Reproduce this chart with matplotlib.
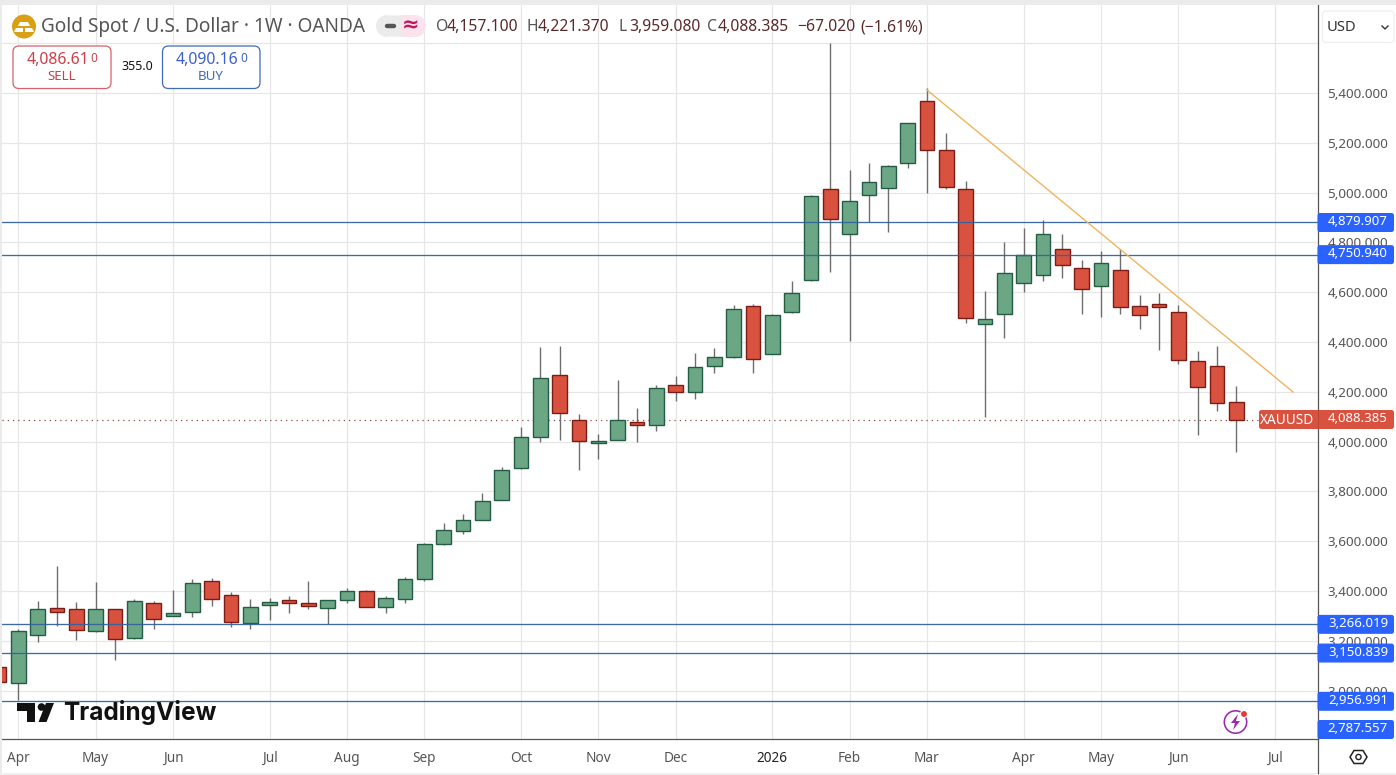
import numpy as np
import matplotlib
matplotlib.use('Agg')
import matplotlib.pyplot as plt
from matplotlib.patches import FancyBboxPatch, Rectangle, Circle, Polygon, Wedge

plt.rcParams['font.family'] = ['Noto Sans', 'DejaVu Sans']

# weekly XAU/USD candles, first bar sits left of the Apr tick
weeks = np.arange(-1, 64)
opens = [3094, 3029, 3222, 3331, 3327, 3238, 3327, 3213, 3351, 3301, 3317, 3439, 3383, 3270, 3343, 3363,
         3351, 3331, 3363, 3399, 3335, 3367, 3447, 3589, 3642, 3686, 3764, 3893, 4017, 4266, 4086, 3993,
         4005, 4078, 4066, 4226, 4198, 4302, 4339, 4545, 4353, 4520, 4649, 5013, 4833, 4989, 5017, 5118,
         5367, 5170, 5013, 4471, 4511, 4636, 4668, 4772, 4696, 4624, 4688, 4543, 4551, 4519, 4322, 4302,
         4157.1]
highs = [3094, 3246, 3359, 3500, 3356, 3436, 3327, 3367, 3359, 3404, 3448, 3451, 3395, 3367, 3371, 3379,
         3439, 3363, 3411, 3403, 3379, 3455, 3592, 3673, 3709, 3792, 3898, 4058, 4380, 4384, 4110, 4029,
         4246, 4134, 4226, 4263, 4355, 4375, 4549, 4553, 4512, 4645, 4990, 5600, 5091, 5118, 5110, 5278,
         5419, 5238, 5045, 4604, 4800, 4857, 4890, 4834, 4728, 4764, 4772, 4588, 4596, 4547, 4363, 4383,
         4221.37]
lows = [3036, 2962, 3196, 3261, 3203, 3235, 3124, 3209, 3249, 3301, 3297, 3340, 3257, 3249, 3284, 3313,
        3329, 3266, 3351, 3335, 3313, 3353, 3439, 3585, 3630, 3686, 3764, 3889, 4000, 4008, 3887, 3931,
        4005, 4000, 4044, 4164, 4172, 4274, 4335, 4277, 4350, 4515, 4645, 4681, 4404, 4882, 4843, 5098,
        5000, 5013, 4478, 4100, 4417, 4602, 4646, 4658, 4514, 4502, 4514, 4453, 4369, 4313, 4028, 4124,
        3959.08]
closes = [3036, 3238, 3327, 3317, 3242, 3327, 3206, 3359, 3289, 3311, 3431, 3367, 3274, 3335, 3355, 3351,
          3339, 3363, 3399, 3335, 3371, 3447, 3589, 3645, 3684, 3760, 3885, 4017, 4254, 4114, 4001, 4001,
          4086, 4066, 4214, 4198, 4298, 4339, 4533, 4331, 4508, 4597, 4985, 4893, 4965, 5041, 5106, 5278,
          5170, 5021, 4495, 4491, 4676, 4748, 4833, 4708, 4612, 4716, 4539, 4507, 4539, 4326, 4218, 4154,
          4088.385]

levels = [4879.907, 4750.94, 3266.019, 3150.839, 2956.991, 2787.557]
level_labels = ['4,879.907', '4,750.940', '3,266.019', '3,150.839', '2,956.991', '2,787.557']

trend_x = [47, 65.94]
trend_y = [5412, 4199]

price_ticks = [3000, 3200, 3400, 3600, 3800, 4000, 4200, 4400, 4600, 4800, 5000, 5200, 5400, 5600]
price_labels = ['3,000.000', '3,200.000', '3,400.000', '3,600.000', '3,800.000', '4,000.000', '4,200.000',
                '4,400.000', '4,600.000', '4,800.000', '5,000.000', '5,200.000', '5,400.000', '']
month_ticks = [0, 4, 8, 13, 17, 21, 26, 30, 34, 39, 43, 47, 52, 56, 60, 65]
month_labels = ['Apr', 'May', 'Jun', 'Jul', 'Aug', 'Sep', 'Oct', 'Nov', 'Dec', '2026', 'Feb', 'Mar', 'Apr',
                'May', 'Jun', 'Jul']

W, H = 1396, 775
fig = plt.figure(figsize=(W / 100, H / 100), dpi=100)
ax = fig.add_axes([2 / W, 1 - 739 / H, (1317.5 - 2) / W, (739 - 5) / H])

opens = np.array(opens, dtype=float)
closes = np.array(closes, dtype=float)
up = closes >= opens

GREEN, GREEN_EDGE = '#6ca785', '#235c43'
RED, RED_EDGE = '#d9523f', '#7a1d16'
WICK = '#6e6e6e'
GRID = '#e6e6e6'
LEVEL = '#34629f'
TEXT = '#555555'

ax.vlines(weeks, lows, highs, color=WICK, lw=1.0, zorder=2)
ax.bar(weeks[up], (closes - opens)[up], bottom=opens[up], width=0.75, color=GREEN,
       edgecolor=GREEN_EDGE, linewidth=1.0, zorder=3)
ax.bar(weeks[~up], (opens - closes)[~up], bottom=closes[~up], width=0.75, color=RED,
       edgecolor=RED_EDGE, linewidth=1.0, zorder=3)

for level in levels:
    ax.axhline(level, color=LEVEL, lw=0.95, alpha=0.95, zorder=4)
ax.plot(trend_x, trend_y, color='#f0b45c', lw=1.0, zorder=4)
ax.plot([weeks[0] + 0.15, 64.2], [closes[-1], closes[-1]], color='#8f4a40', lw=0.9,
        dashes=(1, 3.2), zorder=1.5)

ax.set_xlim(-0.843, 67.2)
ax.set_ylim(2806, 5753)
ax.set_xticks(month_ticks)
ax.set_xticklabels(month_labels, fontsize=9.8, color=TEXT)
ax.set_yticks(price_ticks)
ax.set_yticklabels(price_labels, fontsize=9.7, color=TEXT)
ax.yaxis.tick_right()
ax.tick_params(length=0)
ax.tick_params(axis='x', pad=8.6)
ax.tick_params(axis='y', pad=7.2)
ax.get_xticklabels()[9].set_fontweight('bold')
ax.get_xticklabels()[9].set_color('#222222')
ax.grid(True, color=GRID, lw=0.85, zorder=0)
ax.set_axisbelow(True)
for side in ['top', 'left']:
    ax.spines[side].set_visible(False)
for side in ['right', 'bottom']:
    ax.spines[side].set_color('#555555')
    ax.spines[side].set_linewidth(0.9)

# pixel-coordinate layer for the header, price tags and logos
hud = fig.add_axes([0, 0, 1, 1], zorder=5)
hud.set_xlim(0, W)
hud.set_ylim(H, 0)
hud.axis('off')
hud.patch.set_alpha(0)

hud.add_patch(Rectangle((0, 0), W, 5, color='#ebebeb', lw=0))
hud.add_patch(Rectangle((0, 0), 2, H, color='#ebebeb', lw=0))
hud.add_patch(Rectangle((0, 773), W, 2, color='#efefef', lw=0))
hud.plot([1317.5, 1317.5], [739, 773], color='#555555', lw=0.9)


def tag(x0, y0, x1, y1, fc, ec='none', lw=0, r=2.5):
    hud.add_patch(FancyBboxPatch((x0 + r, y0 + r), x1 - x0 - 2 * r, y1 - y0 - 2 * r,
                                 boxstyle='round,pad=%g,rounding_size=%g' % (r, r),
                                 fc=fc, ec=ec, lw=lw))


# level tags on the price scale, the lowest is pinned above the time axis
for level, label in zip(levels, level_labels):
    yc = min(93 + (5400 - level) * 0.249, 729.5)
    tag(1317.5, yc - 9.5, 1394, yc + 9.5, '#2962ff')
    hud.text(1358, yc - 1, label, color='white', fontsize=9.5, ha='center', va='center', fontweight='bold')

tag(1259, 410, 1394, 429, '#d9523f')
hud.plot([1317.5, 1317.5], [410, 429], color='#b5443a', lw=0.6)
hud.text(1287.5, 420, 'XAUUSD', color='white', fontsize=9.8, ha='center', va='center')
hud.text(1358, 418.5, '4,088.385', color='white', fontsize=9.5, ha='center', va='center', fontweight='bold')

# symbol title
hud.add_patch(Circle((24, 26.5), 12, color='#d9a013', lw=0))
for pts in [[(20, 22), (28, 22), (30, 26), (18, 26)],
            [(14, 32), (23, 32), (23, 28), (16, 28)],
            [(25, 32), (34, 32), (32, 28), (25, 28)]]:
    hud.add_patch(Polygon(pts, closed=True, color='white', lw=0))
hud.text(41, 27, 'Gold Spot / U.S. Dollar · 1W · OANDA', fontsize=13.7, color=TEXT, ha='left', va='center')

hud.add_patch(FancyBboxPatch((387, 15.5), 28, 21, boxstyle='round,pad=0,rounding_size=0', fc='#ebebeb', lw=0))
hud.add_patch(Wedge((387, 26), 11, 90, 270, fc='#ebebeb', lw=0))
hud.add_patch(Rectangle((401, 15), 14, 22, fc='#fbe3ee', lw=0))
hud.add_patch(Wedge((415, 26), 11, 270, 90, fc='#fbe3ee', lw=0))
hud.plot([386.5, 393.5], [26, 26], color='#555555', lw=3.2, solid_capstyle='round')
hud.text(411, 25.5, '≈', color='#c2185b', fontsize=15, ha='center', va='center', fontweight='bold',
         family='DejaVu Sans')

OHLC_VALUE = '#5a2a2a'
for x, letter, value in [(436, 'O', '4,157.100'), (527, 'H', '4,221.370'), (618, 'L', '3,959.080'),
                         (707, 'C', '4,088.385')]:
    hud.text(x, 27, letter, fontsize=11.3, color=TEXT, ha='left', va='center')
    hud.text(x + 11, 27, value, fontsize=11.3, color=OHLC_VALUE, ha='left', va='center')
hud.text(797, 27, '−67.020', fontsize=11.3, color=OHLC_VALUE, ha='left', va='center')
hud.text(860, 27, '(−1.61%)', fontsize=11.3, color=OHLC_VALUE, ha='left', va='center')

# sell and buy buttons
tag(13, 46, 111, 88.5, 'white', ec='#d6606b', lw=0.9, r=6)
hud.text(27, 60, '4,086.61', fontsize=11.4, color='#cf3f48', ha='left', va='center', fontweight='bold')
hud.text(90.5, 58, '0', fontsize=8.5, color='#cf3f48', ha='left', va='center')
hud.text(62, 76, 'SELL', fontsize=9.6, color='#c4404a', ha='center', va='center')
hud.text(137, 66.5, '355.0', fontsize=9, color='#111111', ha='center', va='center')
tag(162.5, 46, 260, 88.5, 'white', ec='#3f6cb5', lw=0.9, r=6)
hud.text(176, 60, '4,090.16', fontsize=11.4, color='#3c61c8', ha='left', va='center', fontweight='bold')
hud.text(240, 58, '0', fontsize=8.5, color='#3c61c8', ha='left', va='center')
hud.text(211, 76, 'BUY', fontsize=9.6, color='#3f6cb5', ha='center', va='center')

# currency selector
tag(1322.5, 11, 1394, 42.5, 'white', ec='#eeeeee', lw=0.9, r=4)
hud.text(1327, 27.5, 'USD', fontsize=10.6, color='#333333', ha='left', va='center')
hud.plot([1382, 1385, 1388], [26, 29, 26], color='#333333', lw=1.0)

# TradingView mark
LOGO = '#111111'
hud.add_patch(Polygon([(17, 703), (35, 703), (35, 722), (27, 722), (27, 711), (17, 711)], closed=True, color=LOGO, lw=0))
hud.add_patch(Circle((41.5, 707), 3.8, color=LOGO, lw=0))
hud.add_patch(Polygon([(46, 703), (54, 703), (46.5, 722), (38.5, 722)], closed=True, color=LOGO, lw=0))
hud.text(63, 712.5, 'TradingView', fontsize=17.6, color=LOGO, ha='left', va='center', family='Inter', fontweight='bold')

# bolt badge
hud.add_patch(Wedge((1235.5, 722), 12, 0, 360, width=1.6, fc='#9c27b0', lw=0))
hud.add_patch(Polygon([(1238, 714), (1231, 723), (1235, 723), (1233, 730), (1240, 721), (1236, 721)],
                      closed=True, color='#9c27b0', lw=0))
hud.add_patch(Circle((1244, 714), 3.5, color='#e53935', ec='white', lw=0.8))

# settings hexagon
hud.add_patch(Polygon([(1350, 757), (1354, 750.5), (1363, 750.5), (1367, 757), (1363, 763.5), (1354, 763.5)],
                      closed=True, fc='white', ec='#222222', lw=1.1))
hud.add_patch(Circle((1358.5, 757), 2.6, fc='white', ec='#222222', lw=1.0))

fig.savefig('out.png', dpi=100)
